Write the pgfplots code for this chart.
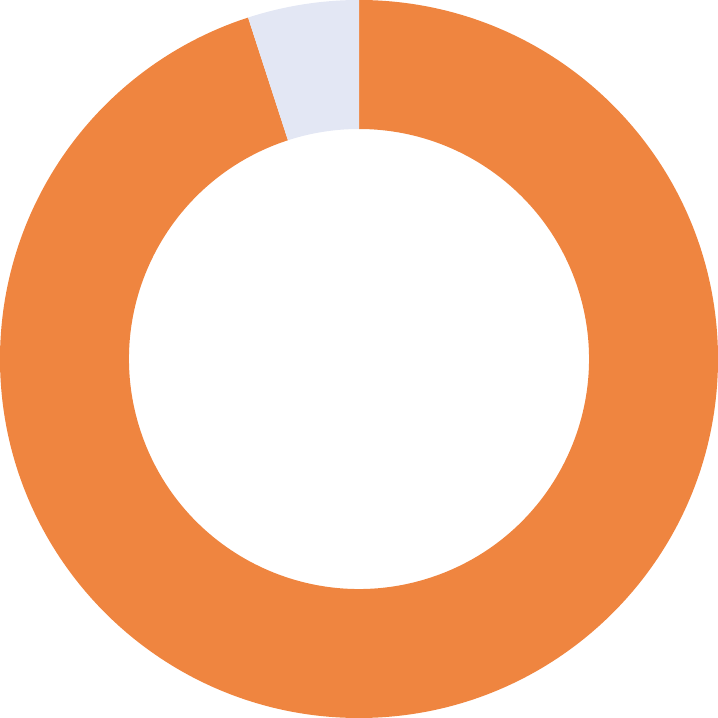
\documentclass[border=0pt]{standalone}
\usepackage{pgfplots}
\pgfplotsset{compat=1.18}
\definecolor{cOrange}{HTML}{EF8540}
\definecolor{cLight}{HTML}{E3E7F4}

\begin{document}
\begin{tikzpicture}
% shares of the ring, in percent
\def\valA{95}
\def\valB{5}
\pgfmathsetmacro{\angA}{90-3.6*\valA}
\def\R{3.59cm}
\def\r{2.30cm}
\def\w{1.29cm}
\begin{axis}[
	hide axis,
	scale only axis,
	width=7.18cm,
	height=7.18cm,
	xmin=-1, xmax=1,
	ymin=-1, ymax=1,
	clip=false
]
	% large segment, clockwise from twelve o'clock
	\fill[cOrange] (axis cs:0,0) ++(90:\R) arc[start angle=90, end angle=\angA, radius=\R]
		-- ++(\angA+180:\w) arc[start angle=\angA, end angle=90, radius=\r] -- cycle;
	% small segment, the rest of the circle
	\fill[cLight] (axis cs:0,0) ++(\angA:\R) arc[start angle=\angA, end angle=-270, radius=\R]
		-- ++(90+180:\w) arc[start angle=-270, end angle=\angA, radius=\r] -- cycle;
\end{axis}
\end{tikzpicture}
\end{document}
